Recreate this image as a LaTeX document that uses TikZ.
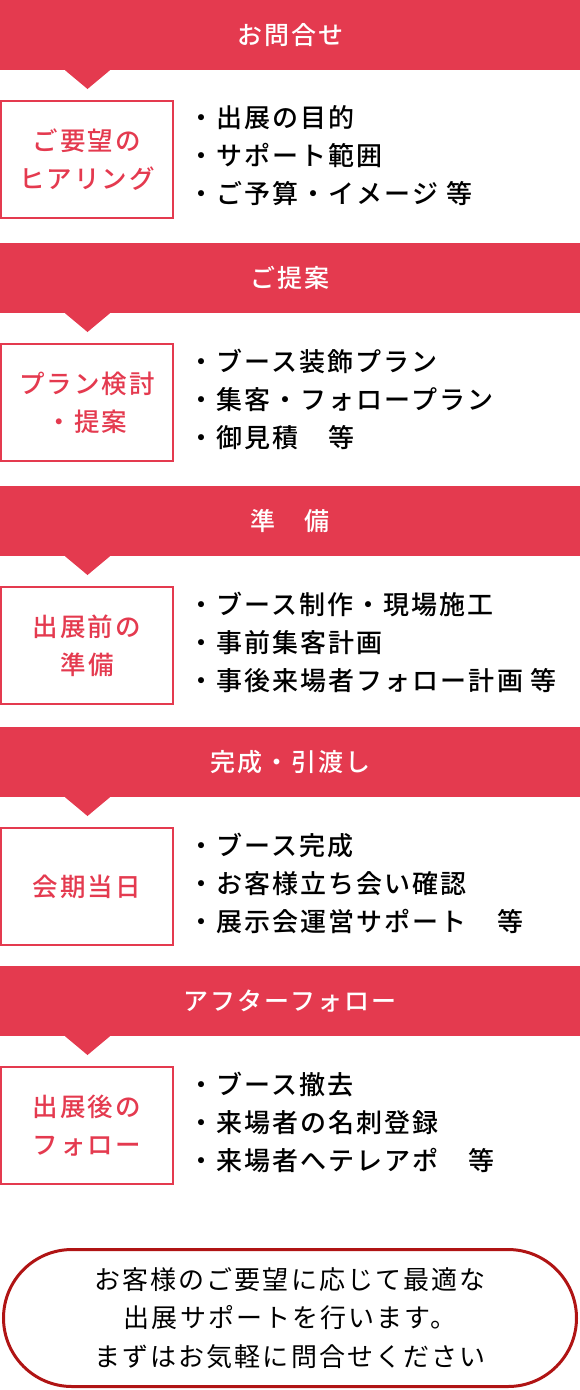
\documentclass[tikz,border=0pt]{standalone}
\usepackage{fontspec}
\usepackage{tikz}
\newfontfamily\jpmed[LetterSpace=8]{Noto Sans CJK JP Medium}
\newfontfamily\jpreg[LetterSpace=8]{Noto Sans CJK JP}
\definecolor{flowred}{HTML}{E43A4F}
\definecolor{noteline}{HTML}{B01414}

\begin{document}
\begin{tikzpicture}[x=1pt,y=-1pt,
	banner/.style={fill=flowred,minimum width=580pt,minimum height=70pt,inner sep=0pt,text=white,font=\jpmed\fontsize{25}{30}\selectfont},
	stepbox/.style={draw=flowred,line width=2pt,minimum width=172pt,minimum height=117pt,inner sep=0pt,align=center,text=flowred,font=\jpmed\fontsize{25.5}{38}\selectfont},
	items/.style={anchor=west,align=left,inner sep=0pt,font=\jpmed\fontsize{26}{38}\selectfont},
	pointer/.style={fill=flowred}]
	\useasboundingbox (0,0) rectangle (580,1390);

	\node[banner] (contact)  at (290, 35)   {お問合せ};
	\node[banner] (proposal) at (290, 278)  {ご提案};
	\node[banner] (prepare)  at (290, 521)  {準　備};
	\node[banner] (handover) at (290, 762)  {完成・引渡し};
	\node[banner] (after)    at (290, 1001) {アフターフォロー};

	\fill[pointer] (contact.south -| 65,0)  -- (contact.south -| 110,0)  -- (87.5, 89)   -- cycle;
	\fill[pointer] (proposal.south -| 65,0) -- (proposal.south -| 110,0) -- (87.5, 332)  -- cycle;
	\fill[pointer] (prepare.south -| 65,0)  -- (prepare.south -| 110,0)  -- (87.5, 575)  -- cycle;
	\fill[pointer] (handover.south -| 65,0) -- (handover.south -| 110,0) -- (87.5, 816)  -- cycle;
	\fill[pointer] (after.south -| 65,0)    -- (after.south -| 110,0)    -- (87.5, 1055) -- cycle;

	\node[stepbox] (hearing) at (87, 159.5)  {ご要望の\\ヒアリング};
	\node[stepbox] (plan)    at (87, 402.5)  {プラン検討\\・提案};
	\node[stepbox] (ready)   at (87, 645.5)  {出展前の\\準備};
	\node[stepbox] (day)     at (87, 886.5)  {会期当日};
	\node[stepbox] (follow)  at (87, 1125.5) {出展後の\\フォロー};

	\node[items] (hearing-list) at (188, 156)  {・出展の目的\\・サポート範囲\\・ご予算・イメージ 等};
	\node[items] (plan-list)    at (188, 399)  {・ブース装飾プラン\\・集客・フォロープラン\\・御見積　等};
	\node[items] (ready-list)   at (188, 642)  {・ブース制作・現場施工\\・事前集客計画\\・事後来場者フォロー計画 等};
	\node[items] (day-list)     at (188, 883)  {・ブース完成\\・お客様立ち会い確認\\・展示会運営サポート　等};
	\node[items] (follow-list)  at (188, 1122) {・ブース撤去\\・来場者の名刺登録\\・来場者へテレアポ　等};

	\node[draw=noteline,line width=3pt,rounded corners=68.5pt,minimum width=573pt,minimum height=137pt,align=center,font=\jpreg\fontsize{26}{38.5}\selectfont] (note) at (290, 1318)
		{お客様のご要望に応じて最適な\\出展サポートを行います。\\まずはお気軽に問合せください};

\end{tikzpicture}
\end{document}
